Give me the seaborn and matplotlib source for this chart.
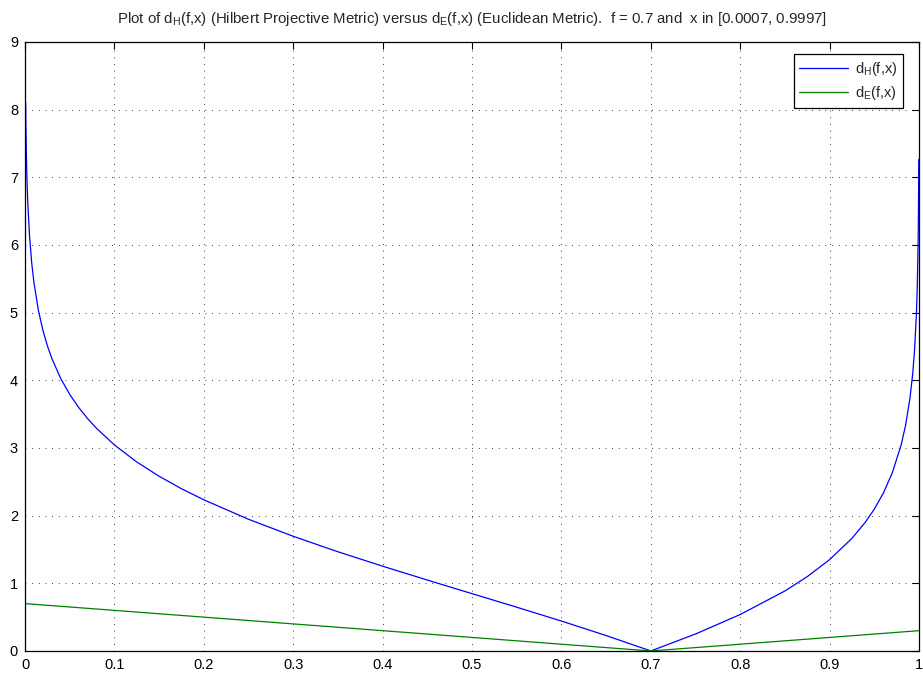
import matplotlib
matplotlib.use("Agg")
import matplotlib.pyplot as plt
import seaborn as sns
import pandas as pd

# Values
x_h = [0.0007, 0.001, 0.0015, 0.002, 0.003, 0.005, 0.0075, 0.01, 0.015, 0.02, 0.025,
       0.03, 0.04, 0.05, 0.06, 0.07, 0.08, 0.1, 0.125, 0.15, 0.175, 0.2, 0.25, 0.3,
       0.35, 0.4, 0.45, 0.5, 0.55, 0.6, 0.65, 0.7, 0.75, 0.8, 0.85, 0.875, 0.9, 0.925,
       0.94, 0.95, 0.96, 0.97, 0.98, 0.985, 0.99, 0.993, 0.995, 0.997, 0.998, 0.999,
       0.9993, 0.9995, 0.9997]
y_h = [8.111, 7.754, 7.348, 7.060, 6.653, 6.141, 5.733, 5.442, 5.032, 4.739, 4.511,
       4.323, 4.025, 3.792, 3.599, 3.434, 3.290, 3.045, 2.793, 2.582, 2.398, 2.234, 1.946, 1.695,
       1.466, 1.253, 1.048, 0.847, 0.647, 0.442, 0.228, 0.0, 0.251, 0.539, 0.887, 1.099, 1.350, 1.665,
       1.904, 2.097, 2.331, 2.629, 3.045, 3.337, 3.748, 4.108, 4.446, 4.959, 5.365, 6.060,
       6.416, 6.753, 7.264]
x_e = [0.0007, 0.7, 0.9997]
y_e = [0.6993, 0.0, 0.2997]

x_ticks = [0, 0.1, 0.2, 0.3, 0.4, 0.5, 0.6, 0.7, 0.8, 0.9, 1]
x_ticklabels = ["0", "0.1", "0.2", "0.3", "0.4", "0.5", "0.6", "0.7", "0.8", "0.9", "1"]
y_ticks = [0, 1, 2, 3, 4, 5, 6, 7, 8, 9]

sns.set_style("white")
plt.rcParams["font.family"] = ["Liberation Sans", "DejaVu Sans"]
plt.rcParams["mathtext.fontset"] = "custom"
plt.rcParams["mathtext.rm"] = "Liberation Sans"
plt.rcParams["mathtext.it"] = "Liberation Sans"
plt.rcParams["mathtext.default"] = "regular"

fig = plt.figure(figsize=(9.23, 6.75), dpi=100)
ax = fig.add_axes([0.0271, 0.0356, 0.9686, 0.9022])

df_h = pd.DataFrame({"x": x_h, "y": y_h})
df_e = pd.DataFrame({"x": x_e, "y": y_e})
sns.lineplot(data=df_h, x="x", y="y", ax=ax, color="#0000ff", lw=0.9,
             label=r"d$_{H}$(f,x)", sort=False, estimator=None)
sns.lineplot(data=df_e, x="x", y="y", ax=ax, color="#008000", lw=0.9,
             label=r"d$_{E}$(f,x)", sort=False, estimator=None)

ax.set_xlim(0, 1)
ax.set_ylim(0, 9)
ax.set_xticks(x_ticks)
ax.set_xticklabels(x_ticklabels)
ax.set_yticks(y_ticks)
ax.set_xlabel("")
ax.set_ylabel("")
ax.grid(True, color="black", linestyle=(0, (1, 7)), linewidth=0.6)
ax.tick_params(direction="in", length=5, width=0.8, top=True, right=True,
               labelsize=10.5, colors="black", pad=5)
for s in ax.spines.values():
    s.set_visible(True)
    s.set_color("black")
    s.set_linewidth(0.9)

ax.set_title(r"Plot of d$_{H}$(f,x) (Hilbert Projective Metric) versus d$_{E}$(f,x) (Euclidean Metric).  f = 0.7 and  x in [0.0007, 0.9997]",
             fontsize=10.8, pad=14)

leg = ax.legend(loc="upper right", bbox_to_anchor=(0.9821, 0.9803), borderaxespad=0,
                fancybox=False, edgecolor="black", framealpha=1,
                fontsize=10.5, handlelength=3.3, handletextpad=0.5, labelspacing=0.45,
                borderpad=0.4)
leg.get_frame().set_linewidth(0.9)

fig.savefig("out.png", dpi=100)
